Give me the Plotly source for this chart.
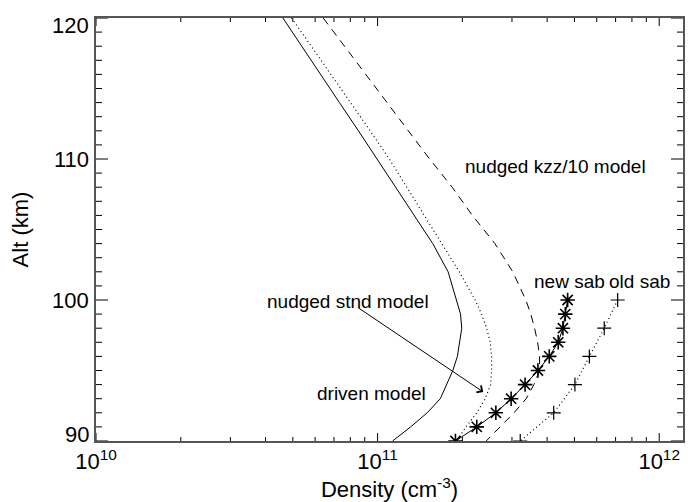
import plotly.graph_objects as go

# ---- data ----
alt_model = [120, 118, 116, 114, 112, 110, 108, 106, 104, 102, 100, 99, 98, 97, 96, 95, 94, 93, 92, 91, 90]
driven = [4.61e10, 5.39e10, 6.28e10, 7.32e10, 8.55e10, 9.95e10, 1.16e11, 1.35e11, 1.57e11, 1.78e11,
          1.91e11, 1.97e11, 1.99e11, 1.96e11, 1.92e11, 1.85e11, 1.76e11, 1.67e11, 1.50e11, 1.31e11, 1.13e11]
nudged_stnd = [4.95e10, 5.82e10, 6.82e10, 8.01e10, 9.41e10, 1.10e11, 1.27e11, 1.47e11, 1.70e11, 1.95e11,
               2.22e11, 2.34e11, 2.44e11, 2.51e11, 2.54e11, 2.54e11, 2.52e11, 2.41e11, 2.25e11, 2.06e11, 1.91e11]
nudged_kzz = [6.41e10, 7.62e10, 9.06e10, 1.08e11, 1.28e11, 1.53e11, 1.84e11, 2.17e11, 2.61e11, 3.02e11,
              3.36e11, 3.50e11, 3.61e11, 3.70e11, 3.76e11, 3.76e11, 3.59e11, 3.37e11, 3.05e11, 2.72e11, 2.43e11]

alt_new_sab = [100, 99, 98, 97, 96, 95, 94, 93, 92, 91, 90]
new_sab = [4.73e11, 4.64e11, 4.55e11, 4.38e11, 4.07e11, 3.71e11, 3.34e11, 2.98e11, 2.63e11, 2.25e11, 1.89e11]

alt_old_sab = [100, 98, 96, 94, 92, 90]
old_sab = [7.12e11, 6.38e11, 5.65e11, 5.02e11, 4.22e11, 3.21e11]

x_major_ticks = [1e10, 1e11, 1e12]
x_minor_ticks = [m * 10.0 ** e for e in (10, 11) for m in range(2, 10)]
y_major_ticks = [90, 100, 110, 120]
y_minor_ticks = [v for v in range(91, 120) if v % 10 != 0]
y_ticktext = ["90", "100", "110", "120"]

FONT = "Liberation Sans, Arial, Helvetica, sans-serif"
X_RANGE = [10, 12.0845]          # log10 range
Y_RANGE = [90, 120]
W, H = 689, 502
M = dict(l=96, r=6, t=18, b=61)
PLOT_W = W - M["l"] - M["r"]
PLOT_H = H - M["t"] - M["b"]

fig = go.Figure()
fig.add_trace(go.Scatter(x=driven, y=alt_model, mode="lines",
                         line=dict(color="black", width=1), name="driven model"))
fig.add_trace(go.Scatter(x=nudged_stnd, y=alt_model, mode="lines",
                         line=dict(color="black", width=1.2, dash="1px,3px"), name="nudged stnd model"))
fig.add_trace(go.Scatter(x=nudged_kzz, y=alt_model, mode="lines",
                         line=dict(color="black", width=1, dash="8px,6px"), name="nudged kzz/10 model"))
fig.add_trace(go.Scatter(x=new_sab, y=alt_new_sab, mode="lines+markers",
                         line=dict(color="black", width=1),
                         marker=dict(symbol="asterisk-open", size=12, color="black",
                                     line=dict(color="black", width=1.6)), name="new sab"))
fig.add_trace(go.Scatter(x=old_sab, y=alt_old_sab, mode="lines+markers",
                         line=dict(color="black", width=1.2, dash="1px,3px"),
                         marker=dict(symbol="cross-thin-open", size=10, color="black",
                                     line=dict(color="black", width=1.2)), name="old sab"))

# ---- inward tick marks on all four sides (IDL style), built from the tick lists ----
y_per_px = (Y_RANGE[1] - Y_RANGE[0]) / PLOT_H
dec_per_px = (X_RANGE[1] - X_RANGE[0]) / PLOT_W
xmin, xmax = 10 ** X_RANGE[0], 10 ** X_RANGE[1]
tx, ty = [], []
for vals, ln in ((x_major_ticks, 8), (x_minor_ticks, 4)):
    for v in vals:
        if xmin <= v <= xmax:
            tx += [v, v, None, v, v, None]
            ty += [Y_RANGE[0], Y_RANGE[0] + ln * y_per_px, None,
                   Y_RANGE[1], Y_RANGE[1] - ln * y_per_px, None]
for vals, ln in ((y_major_ticks, 12), (y_minor_ticks, 6)):
    f = 10 ** (ln * dec_per_px)
    for v in vals:
        tx += [xmin, xmin * f, None, xmax, xmax / f, None]
        ty += [v, v, None, v, v, None]
fig.add_trace(go.Scatter(x=tx, y=ty, mode="lines", line=dict(color="black", width=1),
                         cliponaxis=False, hoverinfo="skip", showlegend=False))

texts = [
    ("nudged kzz/10 model", 11.302, 109.47),
    ("new sab", 11.547, 101.30),
    ("old sab", 11.814, 101.30),
    ("nudged stnd model", 10.600, 99.88),
    ("driven model", 10.778, 93.37),
]
for t, x, y in texts:
    fig.add_annotation(text=t, x=x, y=y, xref="x", yref="y", showarrow=False,
                       xanchor="left", yanchor="middle",
                       font=dict(family=FONT, size=19, color="black"))

fig.add_annotation(text="", x=11.375, y=93.48, ax=10.926, ay=99.52, axref="x", ayref="y",
                   xref="x", yref="y", showarrow=True, arrowhead=4, arrowsize=1.6,
                   arrowwidth=1, arrowcolor="black", standoff=0)

# y tick labels (end labels nudged inward as in the original)
for v, t in zip(y_major_ticks, y_ticktext):
    shift = -7 if v == max(y_major_ticks) else (7 if v == min(y_major_ticks) else 0)
    fig.add_annotation(text=t, x=0, y=v, xref="paper", yref="y", showarrow=False,
                       xanchor="right", yanchor="middle", xshift=-5, yshift=shift,
                       font=dict(family=FONT, size=22, color="black"))

fig.update_layout(
    width=W, height=H,
    margin=dict(**M, autoexpand=False),
    paper_bgcolor="white", plot_bgcolor="white",
    showlegend=False,
    font=dict(family=FONT, color="black"),
    xaxis=dict(type="log", range=X_RANGE, tickmode="array", tickvals=x_major_ticks,
               ticktext=["10<sup>10</sup>", "10<sup>11</sup>", "10<sup>12</sup>"], ticks="",
               showgrid=False, zeroline=False, showline=True, linecolor="#555", linewidth=1.5,
               mirror=True, tickfont=dict(family=FONT, size=22, color="black"),
               title=dict(text="Density (cm<sup>-3</sup>)", standoff=2,
                          font=dict(family=FONT, size=22, color="black"))),
    yaxis=dict(range=Y_RANGE, ticks="", showticklabels=False,
               showgrid=False, zeroline=False, showline=True, linecolor="#555", linewidth=1.5,
               mirror=True,
               title=dict(text="Alt (km)", standoff=60,
                          font=dict(family=FONT, size=22, color="black"))),
)

fig.write_html("out.html")
